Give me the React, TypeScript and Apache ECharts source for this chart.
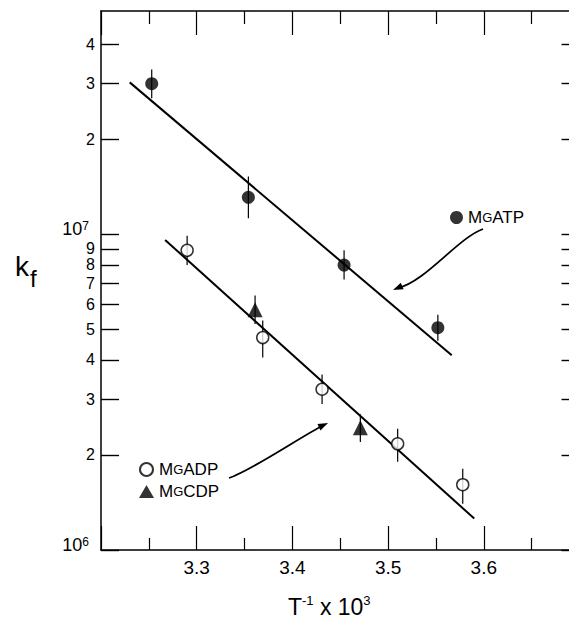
import React, { useEffect, useRef } from "react";
import * as echarts from "echarts";

// ---- data ----
const atpX = [3.253, 3.354, 3.454, 3.552];
const atpY = [3.0e7, 1.31e7, 7.99e6, 5.06e6];
const atpLo = [2.7e7, 1.125e7, 7.2e6, 4.6e6];
const atpHi = [3.33e7, 1.525e7, 8.9e6, 5.56e6];

const adpX = [3.29, 3.369, 3.431, 3.51, 3.578];
const adpY = [8.9e6, 4.71e6, 3.23e6, 2.17e6, 1.61e6];
const adpLo = [8.0e6, 4.07e6, 2.9e6, 1.905e6, 1.4e6];
const adpHi = [9.9e6, 5.33e6, 3.6e6, 2.42e6, 1.81e6];

const cdpX = [3.361, 3.471];
const cdpY = [5.77e6, 2.44e6];
const cdpLo = [5.2e6, 2.2e6];
const cdpHi = [6.4e6, 2.69e6];

const atpFitX = [3.23, 3.5665];
const atpFitY = [3.03e7, 4.14e6];
const adpFitX = [3.267, 3.59];
const adpFitY = [9.6e6, 1.258e6];

const yTickValues = [1e6, 2e6, 3e6, 4e6, 5e6, 6e6, 7e6, 8e6, 9e6, 1e7, 2e7, 3e7, 4e7];
const yTickLabels = ["10^6", "2", "3", "4", "5", "6", "7", "8", "9", "10^7", "2", "3", "4"];

const xMin = 3.2;
const xMax = 3.7;
const xInterval = 0.1;
const yMin = 1e6;
const yMax = 5.1e7;

const FONT = "Liberation Sans";

const pts = (xs: number[], ys: number[]) => xs.map((x, i) => [x, ys[i]]);
const errs = (xs: number[], lo: number[], hi: number[]) => xs.map((x, i) => [x, lo[i], hi[i]]);

export default function App() {
  const ref = useRef<HTMLDivElement>(null);
  useEffect(() => {
    if (!ref.current) return;
    const chart = echarts.init(ref.current, undefined, { renderer: "svg" });

    const yLabelFmt = (v: number) => {
      const i = yTickValues.findIndex((t) => Math.abs(t - v) / t < 1e-6);
      if (i < 0) return "";
      const l = yTickLabels[i];
      if (l.indexOf("^") >= 0) {
        const [b, e] = l.split("^");
        return `{b|${b}}{s|${e}}{w| }\n{e| }`;
      }
      return l;
    };

    const errRender = (params: any, api: any) => {
      const x = api.value(0);
      const p1 = api.coord([x, api.value(1)]);
      const p2 = api.coord([x, api.value(2)]);
      return {
        type: "line",
        shape: { x1: p1[0], y1: p1[1], x2: p2[0], y2: p2[1] },
        style: { stroke: "#000", lineWidth: 1.2 },
      };
    };

    const legendFmt = (name: string) => name.replace("Mg", "M{g|G}");

    const option: any = {
      animation: false,
      backgroundColor: "#fff",
      grid: { left: 101, top: 11, right: 0.5, bottom: 71 },
      xAxis: [
        {
          type: "value",
          min: xMin,
          max: xMax,
          interval: xInterval,
          position: "bottom",
          axisLine: { show: true, onZero: false, lineStyle: { color: "#000", width: 1.5 } },
          axisTick: { show: true, inside: true, length: 24, lineStyle: { color: "#000", width: 1.2 } },
          minorTick: { show: true, splitNumber: 2, length: 12, lineStyle: { color: "#000", width: 1.2 } },
          splitLine: { show: false },
          axisLabel: {
            show: true,
            margin: 8,
            showMinLabel: false,
            showMaxLabel: false,
            color: "#000",
            fontSize: 19,
            fontFamily: FONT,
            formatter: (v: number) => v.toFixed(1),
          },
          name: "T{s|-1} x 10{s|3}",
          nameLocation: "middle",
          nameGap: 44,
          nameTextStyle: {
            color: "#000",
            fontSize: 23,
            fontFamily: FONT,
            lineHeight: 26,
            padding: [0, 0, 0, -22],
            rich: {
              s: { fontSize: 13, fontFamily: FONT, color: "#000", verticalAlign: "top", lineHeight: 14 },
            },
          },
        },
        {
          type: "value",
          min: xMin,
          max: xMax,
          interval: xInterval,
          position: "top",
          axisLine: { show: true, onZero: false, lineStyle: { color: "#000", width: 1.5 } },
          axisTick: { show: true, inside: true, length: 24, lineStyle: { color: "#000", width: 1.2 } },
          minorTick: { show: true, splitNumber: 2, length: 13, lineStyle: { color: "#000", width: 1.2 } },
          splitLine: { show: false },
          axisLabel: { show: false },
        },
      ],
      yAxis: [
        {
          type: "log",
          logBase: 10,
          min: yMin,
          max: yMax,
          position: "left",
          axisLine: { show: true, onZero: false, lineStyle: { color: "#000", width: 1.5 } },
          axisTick: {
            show: true,
            inside: true,
            length: 18,
            customValues: yTickValues,
            lineStyle: { color: "#000", width: 1.4 },
          },
          minorTick: { show: false },
          splitLine: { show: false },
          axisLabel: {
            show: true,
            margin: 6,
            customValues: yTickValues,
            color: "#000",
            fontSize: 16,
            fontFamily: FONT,
            formatter: yLabelFmt,
            rich: {
              b: { fontSize: 18, fontFamily: FONT, color: "#000", lineHeight: 18 },
              s: { fontSize: 12, fontFamily: FONT, color: "#000", lineHeight: 12, verticalAlign: "top" },
              w: { width: 6, fontSize: 12, lineHeight: 18 },
              e: { fontSize: 10, lineHeight: 10 },
            },
          },
        },
        {
          type: "log",
          logBase: 10,
          min: yMin,
          max: yMax,
          position: "right",
          axisLine: { show: true, onZero: false, lineStyle: { color: "#000", width: 1.5 } },
          axisTick: {
            show: true,
            inside: true,
            length: 18,
            customValues: yTickValues,
            lineStyle: { color: "#000", width: 1.4 },
          },
          splitLine: { show: false },
          axisLabel: { show: false },
        },
      ],
      legend: [
        {
          data: ["MgATP"],
          left: 445,
          top: 204,
          itemWidth: 13,
          itemHeight: 13,
          selectedMode: false,
          formatter: legendFmt,
          textStyle: {
            color: "#000",
            fontSize: 17,
            fontFamily: FONT,
            rich: { g: { fontSize: 13, fontFamily: FONT, color: "#000" } },
          },
        },
        {
          data: ["MgADP", "MgCDP"],
          orient: "vertical",
          left: 134,
          top: 456,
          itemWidth: 15,
          itemHeight: 13,
          itemGap: 5,
          selectedMode: false,
          formatter: legendFmt,
          textStyle: {
            color: "#000",
            fontSize: 17,
            fontFamily: FONT,
            rich: { g: { fontSize: 13, fontFamily: FONT, color: "#000" } },
          },
        },
      ],
      series: [
        {
          name: "MgATP fit",
          type: "line",
          data: pts(atpFitX, atpFitY),
          symbol: "none",
          lineStyle: { color: "#000", width: 2 },
          z: 2,
        },
        {
          name: "MgADP fit",
          type: "line",
          data: pts(adpFitX, adpFitY),
          symbol: "none",
          lineStyle: { color: "#000", width: 2 },
          z: 2,
        },
        {
          name: "err ATP",
          type: "custom",
          renderItem: errRender,
          data: errs(atpX, atpLo, atpHi),
          encode: { x: 0, y: [1, 2] },
          z: 1,
        },
        {
          name: "err ADP",
          type: "custom",
          renderItem: errRender,
          data: errs(adpX, adpLo, adpHi),
          encode: { x: 0, y: [1, 2] },
          z: 1,
        },
        {
          name: "err CDP",
          type: "custom",
          renderItem: errRender,
          data: errs(cdpX, cdpLo, cdpHi),
          encode: { x: 0, y: [1, 2] },
          z: 1,
        },
        {
          name: "MgATP",
          type: "scatter",
          data: pts(atpX, atpY),
          symbol: "circle",
          symbolSize: 13,
          itemStyle: { color: "#000" },
          z: 3,
        },
        {
          name: "MgADP",
          type: "scatter",
          data: pts(adpX, adpY),
          symbol: "circle",
          symbolSize: 12,
          itemStyle: { color: "#fff", borderColor: "#000", borderWidth: 1.5 },
          z: 3,
        },
        {
          name: "MgCDP",
          type: "scatter",
          data: pts(cdpX, cdpY),
          symbol: "triangle",
          symbolSize: 15,
          itemStyle: { color: "#000" },
          z: 3,
        },
      ],
      graphic: [
        {
          type: "text",
          left: 15,
          top: 252,
          style: { text: "k", fontSize: 28, fontFamily: FONT, fill: "#000" },
        },
        {
          type: "text",
          left: 30,
          top: 266,
          style: { text: "f", fontSize: 24, fontFamily: FONT, fill: "#000" },
        },
        {
          type: "bezierCurve",
          shape: { x1: 483, y1: 229, cpx1: 458, cpy1: 238, cpx2: 425, cpy2: 282, x2: 398, y2: 288 },
          style: { stroke: "#000", lineWidth: 1.8, fill: "none" },
        },
        {
          type: "polygon",
          shape: { points: [[393, 290], [400.8, 282.8], [403.6, 289.2]] },
          style: { fill: "#000" },
        },
        {
          type: "bezierCurve",
          shape: { x1: 229, y1: 478, cpx1: 251, cpy1: 471, cpx2: 305, cpy2: 434, x2: 324, y2: 425 },
          style: { stroke: "#000", lineWidth: 1.8, fill: "none" },
        },
        {
          type: "polygon",
          shape: { points: [[328, 423], [320.4, 430.4], [317.5, 424.1]] },
          style: { fill: "#000" },
        },
      ],
    };
    chart.setOption(option);
    return () => chart.dispose();
  }, []);
  return (
    <div
      style={{
        position: "fixed",
        left: 0,
        top: 0,
        width: 569,
        height: 625,
        overflow: "hidden",
        background: "#fff",
      }}
    >
      <div ref={ref} style={{ width: 580, height: 625 }} />
    </div>
  );
}
